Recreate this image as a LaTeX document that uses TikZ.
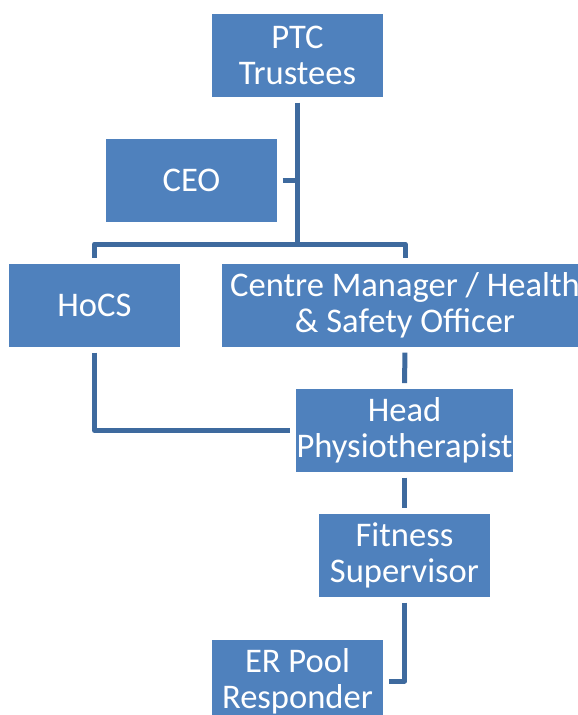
\documentclass[tikz,border=0pt]{standalone}
\usepackage{fontspec}
\setmainfont{Carlito}
\usepackage{xcolor}
\usetikzlibrary{
    calc,
    positioning
}
\definecolor{boxblue}{HTML}{4F81BD}
\definecolor{lineblue}{HTML}{3E6A9E}
\tikzset{
    post/.style={inner sep=0pt, draw=none, fill=boxblue, text=white, align=center,
        minimum height=2.49cm, font=\fontsize{29.5}{31}\selectfont},
    link/.style={draw=lineblue, line width=0.15cm, shorten <=0.16cm, shorten >=0.17cm}
}

\begin{document}
\begin{tikzpicture}[x=0.03cm, y=-0.03cm]
                        \useasboundingbox (0, 0) rectangle (577, 715);
                        \node[post, minimum width=5.13cm] (ptc) at (297.5, 55.5) {PTC\\Trustees};
                        \node[post, minimum width=5.13cm] (ceo) at (191.5, 180.5) {CEO};
                        \node[post, minimum width=5.13cm] (hocs) at (94.5, 305.5) {HoCS};
                        \node[post, minimum width=10.98cm] (manager) at (405, 305.5) {Centre Manager / Health\\\& Safety Officer};
                        \node[post, minimum width=6.51cm] (physio) at (404.5, 430.5) {Head\\Physiotherapist};
                        \node[post, minimum width=5.13cm] (fitness) at (404.5, 555.5) {Fitness\\Supervisor};
                        \node[post, minimum width=5.13cm] (pool) at (297.5, 681) {ER Pool\\Responder};
                        \coordinate (split) at (297.5, 244);
                        \draw[link, shorten >=0pt] (ptc.south) -- (split);
                        \draw[link, shorten >=0pt] (ceo.east) -- (ceo.east -| split);
                        \draw[link, shorten <=0pt, line join=round] (split) -| (hocs.north);
                        \draw[link, shorten <=0pt, line join=round] (split) -| (manager.north);
                        \draw[link, line join=round] (hocs.south) |- (physio.west);
                        \draw[link] (manager.south) -- (physio.north);
                        \draw[link] (physio.south) -- (fitness.north);
                        \draw[link, line join=round] (fitness.south) |- (pool.east);
                    \end{tikzpicture}
\end{document}
